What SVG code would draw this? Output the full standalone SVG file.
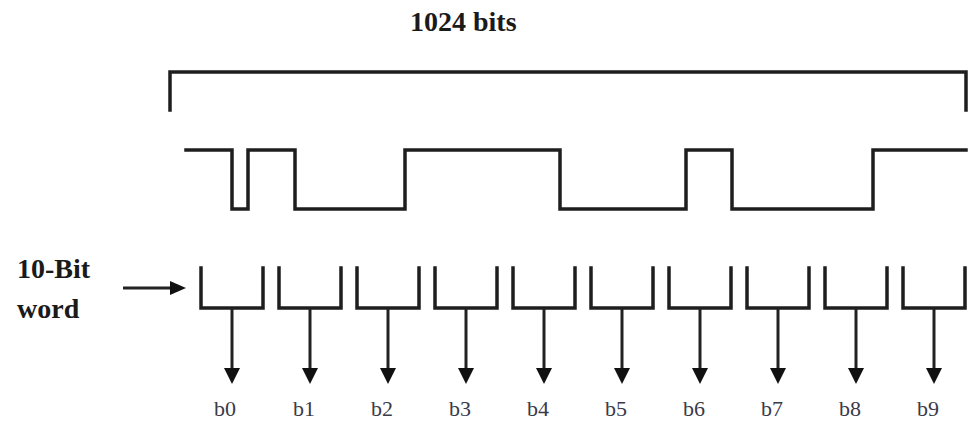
<svg xmlns="http://www.w3.org/2000/svg" width="972" height="422" viewBox="0 0 972 422">
<style>
.ln{fill:none;stroke:#1e1e1e;stroke-width:3.5;stroke-linejoin:miter;stroke-linecap:square}
.ar{fill:none;stroke:#222;stroke-width:3}
.hd{fill:#111}
.tb{font-family:"Liberation Serif",serif;font-weight:bold;font-size:28px;fill:#1a1a1a}
.tl{font-family:"Liberation Serif",serif;font-size:22px;fill:#3a3a48}
</style>
<defs>
<marker id="ah" markerWidth="6" markerHeight="6" refX="5" refY="3" orient="auto" markerUnits="strokeWidth">
<path d="M0,0 L5,3 L0,6 Z" class="hd"/>
</marker>
</defs>
<g id="title"><text class="tb" x="410" y="31">1024 bits</text></g>
<g id="bracket"><path class="ln" d="M170,110 V72 H966 V110"/></g>
<g id="waveform"><path class="ln" d="M186,150 H232 V209 H248 V150 H295 V209 H405 V150 H560 V209 H686 V150 H732 V209 H873 V150 H966"/></g>
<g id="word-label"><text class="tb" x="17" y="278">10-Bit</text><text class="tb" x="17" y="318">word</text></g>
<g id="cups">
<path class="ln" d="M201,268 V308 H263 V268"/>
<path class="ln" d="M279,268 V308 H341 V268"/>
<path class="ln" d="M357,268 V308 H419 V268"/>
<path class="ln" d="M435,268 V308 H497 V268"/>
<path class="ln" d="M513,268 V308 H575 V268"/>
<path class="ln" d="M591,268 V308 H653 V268"/>
<path class="ln" d="M669,268 V308 H731 V268"/>
<path class="ln" d="M747,268 V308 H809 V268"/>
<path class="ln" d="M825,268 V308 H887 V268"/>
<path class="ln" d="M903,268 V308 H965 V268"/>
</g>
<g id="connectors">
<path class="ar" d="M123,288 H172"/>
<path class="hd" d="M170,281 L186,288 L170,295 Z"/>
<g class="ar">
<path d="M232,308 V370"/><path d="M310,308 V370"/><path d="M388,308 V370"/><path d="M466,308 V370"/><path d="M544,308 V370"/>
<path d="M622,308 V370"/><path d="M700,308 V370"/><path d="M778,308 V370"/><path d="M856,308 V370"/><path d="M934,308 V370"/>
</g>
<g class="hd">
<path d="M224,368 L240,368 L232,384 Z"/><path d="M302,368 L318,368 L310,384 Z"/><path d="M380,368 L396,368 L388,384 Z"/><path d="M458,368 L474,368 L466,384 Z"/><path d="M536,368 L552,368 L544,384 Z"/>
<path d="M614,368 L630,368 L622,384 Z"/><path d="M692,368 L708,368 L700,384 Z"/><path d="M770,368 L786,368 L778,384 Z"/><path d="M848,368 L864,368 L856,384 Z"/><path d="M926,368 L942,368 L934,384 Z"/>
</g>
</g>
<g id="bit-labels">
<text class="tl" x="225" y="416" text-anchor="middle">b0</text>
<text class="tl" x="304" y="416" text-anchor="middle">b1</text>
<text class="tl" x="382" y="416" text-anchor="middle">b2</text>
<text class="tl" x="460" y="416" text-anchor="middle">b3</text>
<text class="tl" x="538" y="416" text-anchor="middle">b4</text>
<text class="tl" x="616" y="416" text-anchor="middle">b5</text>
<text class="tl" x="694" y="416" text-anchor="middle">b6</text>
<text class="tl" x="772" y="416" text-anchor="middle">b7</text>
<text class="tl" x="850" y="416" text-anchor="middle">b8</text>
<text class="tl" x="928" y="416" text-anchor="middle">b9</text>
</g>
</svg>
